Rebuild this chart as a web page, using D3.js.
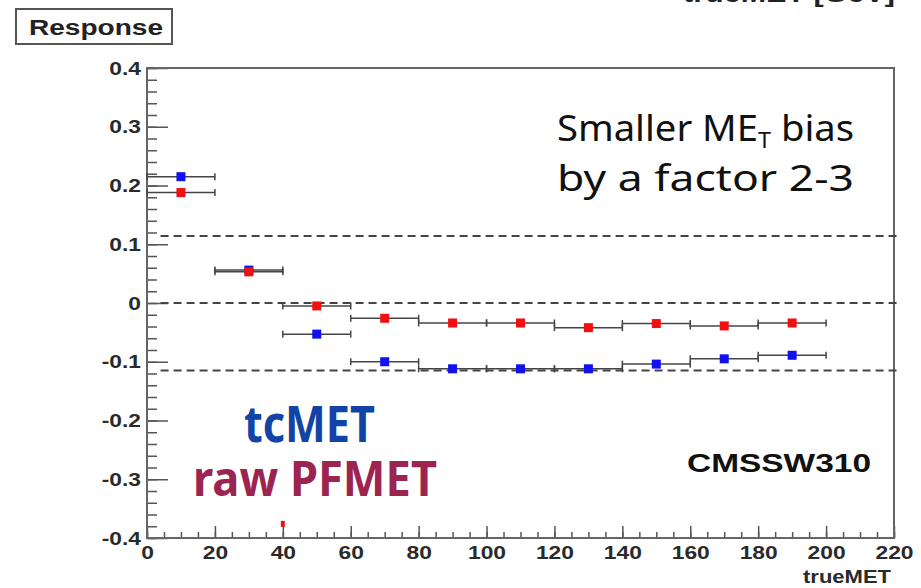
<!DOCTYPE html>
<html>
<head>
<meta charset="utf-8">
<script src="https://cdn.jsdelivr.net/npm/d3@7"></script>
<style>
  body { margin: 0; background: #fff; }
  svg { display: block; }
</style>
</head>
<body>
<svg id="chart" width="921" height="588"></svg>
<script>
// bins of trueMET (GeV)
var binLow = [0, 20, 40, 60, 80, 100, 120, 140, 160, 180];
var binHigh = [20, 40, 60, 80, 100, 120, 140, 160, 180, 200];
var binCenter = [10, 30, 50, 70, 90, 110, 130, 150, 170, 190];

// response per bin
var tcMET = [0.215, 0.056, -0.053, -0.100, -0.112, -0.112, -0.112, -0.104, -0.095, -0.089];
var rawPFMET = [0.188, 0.053, -0.005, -0.026, -0.034, -0.034, -0.042, -0.035, -0.039, -0.034];

// reference lines (dashed)
var refLines = [0.114, 0, -0.115];

// leftover marker peeking out under the pasted legend
var strayX = [40];
var strayY = [-0.376];

var yTickValues = [-0.4, -0.3, -0.2, -0.1, 0, 0.1, 0.2, 0.3, 0.4];
var yTickLabels = ["-0.4", "-0.3", "-0.2", "-0.1", "0", "0.1", "0.2", "0.3", "0.4"];
var xTickValues = [0, 20, 40, 60, 80, 100, 120, 140, 160, 180, 200, 220];
var xTickLabels = ["0", "20", "40", "60", "80", "100", "120", "140", "160", "180", "200", "220"];

var svg = d3.select("#chart");

var x = d3.scaleLinear().domain([0, 220]).range([147, 894]);
var y = d3.scaleLinear().domain([-0.4, 0.4]).range([538, 68]);

var axisFont = "'Liberation Sans', Arial, sans-serif";
var tickColor = "#555";

// y axis: minor then major ticks, pointing inward
var yMinor = svg.append("g")
    .attr("transform", "translate(" + x(0) + ",0)")
    .call(d3.axisLeft(y).ticks(40).tickSize(-10).tickFormat(""));
yMinor.select(".domain").remove();

var yMajor = svg.append("g")
    .attr("transform", "translate(" + x(0) + ",0)")
    .call(d3.axisLeft(y)
        .tickValues(yTickValues)
        .tickSize(-21)
        .tickPadding(5)
        .tickFormat((d, i) => yTickLabels[i]));
yMajor.select(".domain").remove();

// x axis
var xMinor = svg.append("g")
    .attr("transform", "translate(0," + y(-0.4) + ")")
    .call(d3.axisBottom(x).ticks(44).tickSize(-6).tickFormat(""));
xMinor.select(".domain").remove();

var xMajor = svg.append("g")
    .attr("transform", "translate(0," + y(-0.4) + ")")
    .call(d3.axisBottom(x)
        .tickValues(xTickValues)
        .tickSize(-12)
        .tickPadding(8)
        .tickFormat((d, i) => xTickLabels[i]));
xMajor.select(".domain").remove();

svg.selectAll(".tick line")
    .attr("stroke", tickColor)
    .attr("stroke-width", 1.5);

svg.selectAll(".tick text")
    .attr("fill", "#2a2a2a")
    .attr("transform", "scale(1.2,1)")
    .style("font-family", axisFont)
    .style("font-weight", "bold")
    .style("font-size", "19px");

// frame
svg.append("rect")
    .attr("x", x(0))
    .attr("y", y(0.4))
    .attr("width", x(220) - x(0))
    .attr("height", y(-0.4) - y(0.4))
    .attr("fill", "none")
    .attr("stroke", "#666")
    .attr("stroke-width", 2);

// dashed reference lines
svg.selectAll(".ref")
    .data(refLines)
    .enter()
    .append("line")
    .attr("class", "ref")
    .attr("x1", x(4))
    .attr("x2", x(222))
    .attr("y1", d => y(d))
    .attr("y2", d => y(d))
    .attr("stroke", "#444")
    .attr("stroke-width", 2)
    .attr("stroke-dasharray", "8,5");

// error bars + markers for one series
function drawSeries(values, color) {
    var rows = values.map((v, i) => ({lo: binLow[i], hi: binHigh[i], c: binCenter[i], v: v}));
    var grp = svg.append("g");

    grp.selectAll("line.bar")
        .data(rows)
        .enter()
        .append("line")
        .attr("class", "bar")
        .attr("x1", d => x(d.lo))
        .attr("x2", d => x(d.hi))
        .attr("y1", d => y(d.v))
        .attr("y2", d => y(d.v))
        .attr("stroke", "#444")
        .attr("stroke-width", 1.5);

    grp.selectAll("line.capL")
        .data(rows)
        .enter()
        .append("line")
        .attr("x1", d => x(d.lo))
        .attr("x2", d => x(d.lo))
        .attr("y1", d => y(d.v) - 3.5)
        .attr("y2", d => y(d.v) + 3.5)
        .attr("stroke", "#444")
        .attr("stroke-width", 1.5);

    grp.selectAll("line.capR")
        .data(rows)
        .enter()
        .append("line")
        .attr("x1", d => x(d.hi))
        .attr("x2", d => x(d.hi))
        .attr("y1", d => y(d.v) - 3.5)
        .attr("y2", d => y(d.v) + 3.5)
        .attr("stroke", "#444")
        .attr("stroke-width", 1.5);

    grp.selectAll("rect")
        .data(rows)
        .enter()
        .append("rect")
        .attr("x", d => x(d.c) - 4.5)
        .attr("y", d => y(d.v) - 4.5)
        .attr("width", 9)
        .attr("height", 9)
        .attr("fill", color);
}

drawSeries(tcMET, "#1010f0");
drawSeries(rawPFMET, "#f01010");

svg.selectAll(".stray")
    .data(strayX)
    .enter()
    .append("rect")
    .attr("class", "stray")
    .attr("x", d => x(d) - 2)
    .attr("y", (d, i) => y(strayY[i]) - 3)
    .attr("width", 4)
    .attr("height", 6)
    .attr("fill", "#f01010");

// title box
svg.append("rect")
    .attr("x", 16)
    .attr("y", 9)
    .attr("width", 156)
    .attr("height", 35)
    .attr("fill", "#fff")
    .attr("stroke", "#555")
    .attr("stroke-width", 2);

svg.append("text")
    .attr("x", 29)
    .attr("y", 35)
    .attr("textLength", 134)
    .attr("lengthAdjust", "spacingAndGlyphs")
    .style("font-family", axisFont)
    .style("font-weight", "bold")
    .style("font-size", "22px")
    .attr("fill", "#222")
    .text("Response");

// heading of the panel above, cut off at the top edge
svg.append("text")
    .attr("x", 683)
    .attr("y", 2)
    .attr("textLength", 212)
    .attr("lengthAdjust", "spacingAndGlyphs")
    .style("font-family", axisFont)
    .style("font-weight", "bold")
    .style("font-size", "24px")
    .attr("fill", "#222")
    .text("trueMET [GeV]");

// x axis title
svg.append("text")
    .attr("x", 891)
    .attr("y", 583)
    .attr("text-anchor", "end")
    .attr("textLength", 88)
    .attr("lengthAdjust", "spacingAndGlyphs")
    .style("font-family", axisFont)
    .style("font-weight", "bold")
    .style("font-size", "18px")
    .attr("fill", "#2a2a2a")
    .text("trueMET");

// hand-written note
var note = svg.append("text")
    .attr("x", 557)
    .attr("y", 141)
    .attr("textLength", 297)
    .attr("lengthAdjust", "spacingAndGlyphs")
    .style("font-family", "'Noto Sans', sans-serif")
    .style("font-size", "36px")
    .attr("fill", "#111");
note.append("tspan").text("Smaller ME");
note.append("tspan").attr("dy", 7).style("font-size", "22px").text("T");
note.append("tspan").attr("dy", -7).text(" bias");

svg.append("text")
    .attr("x", 557)
    .attr("y", 191)
    .attr("textLength", 297)
    .attr("lengthAdjust", "spacingAndGlyphs")
    .style("font-family", "'Noto Sans', sans-serif")
    .style("font-size", "36px")
    .attr("fill", "#111")
    .text("by a factor 2-3");

// pasted legend
svg.append("text")
    .attr("x", 244)
    .attr("y", 442)
    .attr("textLength", 131)
    .attr("lengthAdjust", "spacingAndGlyphs")
    .style("font-family", "'Noto Sans', sans-serif")
    .style("font-weight", "bold")
    .style("font-size", "50px")
    .attr("fill", "#1144a6")
    .text("tcMET");

svg.append("text")
    .attr("x", 193)
    .attr("y", 496)
    .attr("textLength", 244)
    .attr("lengthAdjust", "spacingAndGlyphs")
    .style("font-family", "'Noto Sans', sans-serif")
    .style("font-weight", "bold")
    .style("font-size", "48px")
    .attr("fill", "#9c2450")
    .text("raw PFMET");

svg.append("text")
    .attr("x", 687)
    .attr("y", 472)
    .attr("textLength", 184)
    .attr("lengthAdjust", "spacingAndGlyphs")
    .style("font-family", axisFont)
    .style("font-weight", "bold")
    .style("font-size", "26px")
    .attr("fill", "#111")
    .text("CMSSW310");
</script>
</body>
</html>
